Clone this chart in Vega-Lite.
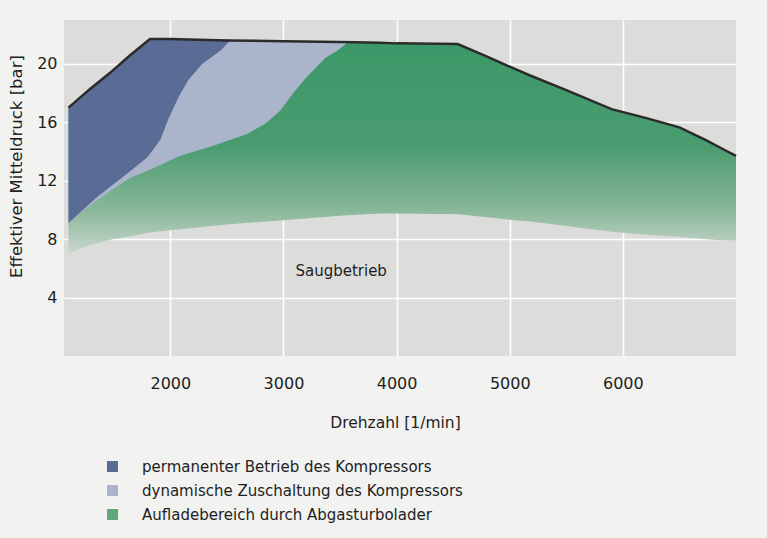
{
  "$schema": "https://vega.github.io/schema/vega-lite/v6.json",
  "width": 672,
  "height": 336,
  "autosize": {"type": "none"},
  "padding": {"left": 64, "top": 20, "right": 31, "bottom": 182},
  "background": "#f2f2f0",
  "config": {
    "view": {"fill": "#dcdddb", "stroke": null},
    "font": "DejaVu Sans",
    "axis": {"domain": false, "ticks": false, "grid": true, "gridColor": "#ffffff", "gridWidth": 1.5, "labelColor": "#1e1e1e", "titleColor": "#1e1e1e", "labelFontSize": 16, "titleFontSize": 15.5, "titleFontWeight": "normal"},
    "axisX": {"labelPadding": 19, "titleX": 331, "titleY": 66, "titleBaseline": "middle"},
    "axisY": {"labelPadding": 7, "titleX": -48, "titleY": 146, "titleAngle": 270, "titleAlign": "center", "titleBaseline": "middle", "titleFontSize": 16.5}
  },
  "datasets": {
    "green": [
      {"rpm": 1100, "lo": 7.0, "hi": 17.0},
      {"rpm": 1293, "lo": 7.6, "hi": 18.3},
      {"rpm": 1470, "lo": 7.95, "hi": 19.4},
      {"rpm": 1647, "lo": 8.2, "hi": 20.6},
      {"rpm": 1820, "lo": 8.45, "hi": 21.7},
      {"rpm": 2000, "lo": 8.6, "hi": 21.7},
      {"rpm": 2500, "lo": 9.0, "hi": 21.6},
      {"rpm": 3000, "lo": 9.3, "hi": 21.55},
      {"rpm": 3500, "lo": 9.6, "hi": 21.5},
      {"rpm": 3850, "lo": 9.75, "hi": 21.45},
      {"rpm": 4000, "lo": 9.75, "hi": 21.4},
      {"rpm": 4540, "lo": 9.7, "hi": 21.35},
      {"rpm": 4800, "lo": 9.5, "hi": 20.5},
      {"rpm": 5030, "lo": 9.3, "hi": 19.7},
      {"rpm": 5180, "lo": 9.2, "hi": 19.2},
      {"rpm": 5500, "lo": 8.9, "hi": 18.2},
      {"rpm": 5900, "lo": 8.5, "hi": 16.9},
      {"rpm": 6200, "lo": 8.3, "hi": 16.3},
      {"rpm": 6500, "lo": 8.15, "hi": 15.65},
      {"rpm": 6730, "lo": 8.0, "hi": 14.8},
      {"rpm": 6900, "lo": 7.9, "hi": 14.1},
      {"rpm": 7000, "lo": 7.9, "hi": 13.7}
    ],
    "light": [
      {"rpm": 1100, "lo": 9.1, "hi": 17.0, "region": "dynamische Zuschaltung des Kompressors"},
      {"rpm": 1293, "lo": 10.3, "hi": 18.3, "region": "dynamische Zuschaltung des Kompressors"},
      {"rpm": 1470, "lo": 11.3, "hi": 19.4, "region": "dynamische Zuschaltung des Kompressors"},
      {"rpm": 1647, "lo": 12.2, "hi": 20.6, "region": "dynamische Zuschaltung des Kompressors"},
      {"rpm": 1820, "lo": 12.75, "hi": 21.7, "region": "dynamische Zuschaltung des Kompressors"},
      {"rpm": 2088, "lo": 13.7, "hi": 21.7, "region": "dynamische Zuschaltung des Kompressors"},
      {"rpm": 2380, "lo": 14.4, "hi": 21.65, "region": "dynamische Zuschaltung des Kompressors"},
      {"rpm": 2680, "lo": 15.2, "hi": 21.6, "region": "dynamische Zuschaltung des Kompressors"},
      {"rpm": 2839, "lo": 15.9, "hi": 21.6, "region": "dynamische Zuschaltung des Kompressors"},
      {"rpm": 2972, "lo": 16.8, "hi": 21.55, "region": "dynamische Zuschaltung des Kompressors"},
      {"rpm": 3087, "lo": 18.0, "hi": 21.55, "region": "dynamische Zuschaltung des Kompressors"},
      {"rpm": 3193, "lo": 19.0, "hi": 21.55, "region": "dynamische Zuschaltung des Kompressors"},
      {"rpm": 3263, "lo": 19.55, "hi": 21.55, "region": "dynamische Zuschaltung des Kompressors"},
      {"rpm": 3369, "lo": 20.4, "hi": 21.5, "region": "dynamische Zuschaltung des Kompressors"},
      {"rpm": 3475, "lo": 20.9, "hi": 21.5, "region": "dynamische Zuschaltung des Kompressors"},
      {"rpm": 3564, "lo": 21.45, "hi": 21.5, "region": "dynamische Zuschaltung des Kompressors"}
    ],
    "dark": [
      {"rpm": 1100, "lo": 9.1, "hi": 17.0, "region": "permanenter Betrieb des Kompressors"},
      {"rpm": 1355, "lo": 10.9, "hi": 18.66, "region": "permanenter Betrieb des Kompressors"},
      {"rpm": 1620, "lo": 12.5, "hi": 20.4, "region": "permanenter Betrieb des Kompressors"},
      {"rpm": 1797, "lo": 13.6, "hi": 21.55, "region": "permanenter Betrieb des Kompressors"},
      {"rpm": 1820, "lo": 13.85, "hi": 21.7, "region": "permanenter Betrieb des Kompressors"},
      {"rpm": 1912, "lo": 14.8, "hi": 21.7, "region": "permanenter Betrieb des Kompressors"},
      {"rpm": 1982, "lo": 16.2, "hi": 21.7, "region": "permanenter Betrieb des Kompressors"},
      {"rpm": 2071, "lo": 17.7, "hi": 21.7, "region": "permanenter Betrieb des Kompressors"},
      {"rpm": 2159, "lo": 18.9, "hi": 21.7, "region": "permanenter Betrieb des Kompressors"},
      {"rpm": 2283, "lo": 20.0, "hi": 21.65, "region": "permanenter Betrieb des Kompressors"},
      {"rpm": 2442, "lo": 20.9, "hi": 21.65, "region": "permanenter Betrieb des Kompressors"},
      {"rpm": 2530, "lo": 21.6, "hi": 21.65, "region": "permanenter Betrieb des Kompressors"}
    ],
    "label": [
      {"rpm": 3510, "val": 5.8, "label": "Saugbetrieb"}
    ]
  },
  "encoding": {
    "x": {"field": "rpm", "type": "quantitative", "title": "Drehzahl  [1/min]", "scale": {"domain": [1060, 7000], "nice": false, "zero": false}, "axis": {"values": [2000, 3000, 4000, 5000, 6000], "format": "d"}}
  },
  "layer": [
    {
      "data": {"name": "green"},
      "mark": {"type": "area", "fill": {"gradient": "linear", "x1": 0, "y1": 0, "x2": 0, "y2": 1, "stops": [{"offset": 0, "color": "#3b9867"}, {"offset": 0.5, "color": "#4a9c70"}, {"offset": 0.8, "color": "#8ab79a"}, {"offset": 1, "color": "#cbd7ce"}]}},
      "encoding": {
        "y": {"field": "lo", "type": "quantitative", "title": "Effektiver Mitteldruck [bar]", "scale": {"domain": [0, 23], "nice": false}, "axis": {"values": [4, 8, 12, 16, 20]}},
        "y2": {"field": "hi"}
      }
    },
    {
      "data": {"name": "light"},
      "mark": {"type": "area"},
      "encoding": {
        "y": {"field": "lo", "type": "quantitative", "title": "Effektiver Mitteldruck [bar]", "scale": {"domain": [0, 23], "nice": false}, "axis": {"values": [4, 8, 12, 16, 20]}},
        "y2": {"field": "hi"},
        "color": {"field": "region", "type": "nominal", "scale": {"domain": ["permanenter Betrieb des Kompressors", "dynamische Zuschaltung des Kompressors", "Aufladebereich durch Abgasturbolader"], "range": ["#5a6c96", "#aab4cb", "#62a87c"]}, "legend": {"title": null, "orient": "none", "legendX": 41, "legendY": 439, "symbolType": "square", "symbolSize": 121, "symbolStrokeWidth": 0, "symbolOpacity": 1, "labelFontSize": 15, "labelOffset": 22, "rowPadding": 8, "labelColor": "#1e1e1e", "labelLimit": 600}}
      }
    },
    {
      "data": {"name": "dark"},
      "mark": {"type": "area"},
      "encoding": {
        "y": {"field": "lo", "type": "quantitative", "title": "Effektiver Mitteldruck [bar]", "scale": {"domain": [0, 23], "nice": false}, "axis": {"values": [4, 8, 12, 16, 20]}},
        "y2": {"field": "hi"},
        "color": {"field": "region", "type": "nominal"}
      }
    },
    {
      "data": {"name": "green"},
      "mark": {"type": "line", "color": "#2b2b2b", "strokeWidth": 2.5},
      "encoding": {
        "y": {"field": "hi", "type": "quantitative", "title": "Effektiver Mitteldruck [bar]", "scale": {"domain": [0, 23], "nice": false}, "axis": {"values": [4, 8, 12, 16, 20]}}
      }
    },
    {
      "data": {"name": "label"},
      "mark": {"type": "text", "fontSize": 15, "color": "#1e1e1e"},
      "encoding": {
        "y": {"field": "val", "type": "quantitative", "title": "Effektiver Mitteldruck [bar]", "scale": {"domain": [0, 23], "nice": false}, "axis": {"values": [4, 8, 12, 16, 20]}},
        "text": {"field": "label"}
      }
    }
  ]
}
